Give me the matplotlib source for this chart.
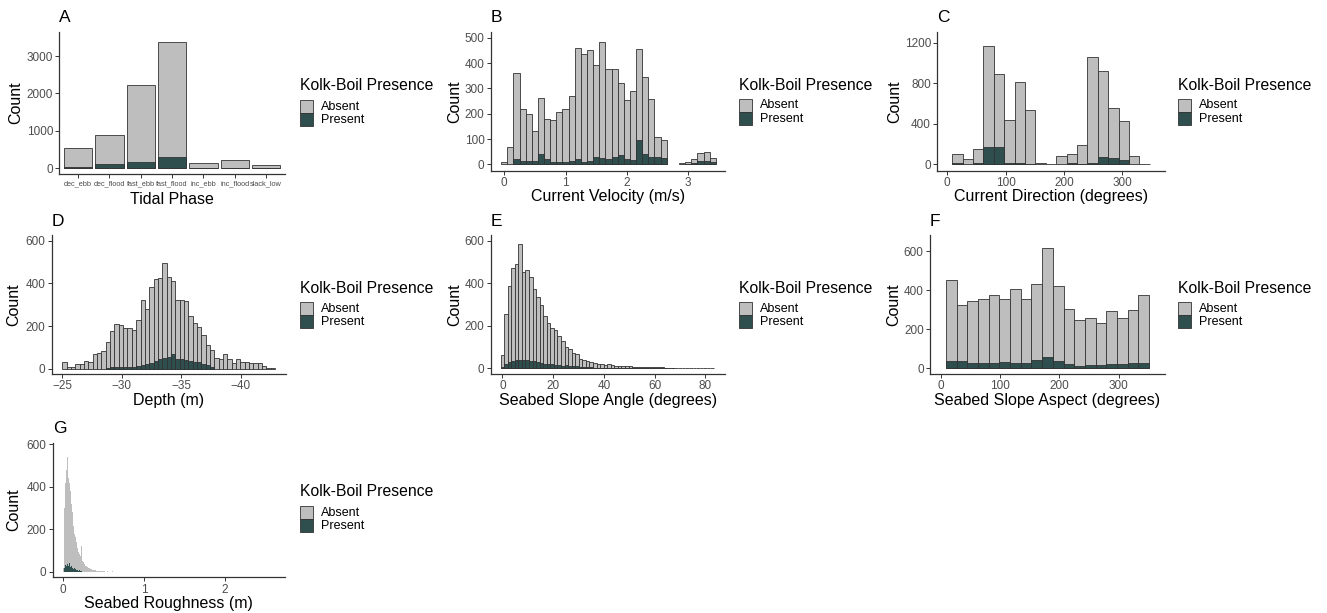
import numpy as np
import matplotlib
matplotlib.use('Agg')
from matplotlib import pyplot as plt
from matplotlib.patches import Rectangle

plt.rcParams['font.family'] = ['Liberation Sans', 'DejaVu Sans']

# A - tidal phase (bar chart)
phases = ['dec_ebb', 'dec_flood', 'fast_ebb', 'fast_flood', 'inc_ebb', 'inc_flood', 'slack_low']
phase_total = [543, 890, 2225, 3365, 130, 230, 95]
phase_present = [30, 100, 160, 300, 5, 5, 3]

# B - current velocity, bins of 0.1 centred on 0.0 ... 3.4
vel_first, vel_width = 0.0, 0.1
vel_total = [10, 70, 362, 220, 197, 133, 263, 179, 175, 205, 217, 272, 460, 434,
             451, 393, 483, 375, 378, 320, 254, 289, 454, 347, 257, 110, 95,
             0, 0, 5, 10, 20, 45, 50, 25]
vel_present = [0, 0, 20, 12, 15, 12, 42, 20, 8, 10, 10, 12, 22, 10, 15, 30, 25,
               22, 28, 38, 22, 18, 98, 42, 28, 30, 25, 0, 0, 0, 3, 5, 12, 12, 8]

# C - current direction
dir_first, dir_width = 17.5, 17.8
dir_total = [102, 49, 151, 1170, 891, 434, 809, 532, 10, 3, 82, 105, 194,
             1055, 920, 559, 427, 82, 3]
dir_present = [10, 0, 15, 170, 170, 15, 10, 8, 0, 0, 0, 10, 5, 10, 70, 60, 45, 0, 0]

# D - depth (axis reversed)
depth_first, depth_width = -25.18, -0.365
depth_total = [30, 8, 6, 23, 20, 34, 31, 69, 75, 83, 123, 179, 209, 203, 189, 190,
               183, 228, 323, 279, 381, 420, 426, 495, 429, 410, 323, 323, 317,
               245, 214, 195, 156, 109, 86, 51, 47, 70, 44, 27, 44, 31, 30, 28,
               27, 27, 12, 5, 5]
depth_present = [0, 0, 0, 0, 0, 0, 0, 0, 0, 0, 5, 8, 8, 9, 10, 10, 10, 14, 16, 22,
                 28, 34, 44, 50, 55, 70, 47, 44, 42, 34, 33, 30, 20, 16, 10,
                 0, 0, 0, 0, 0, 0, 0, 0, 0, 0, 0, 0, 0, 0]

# E - seabed slope angle
slope_first, slope_width = 0.0, 1.4
slope_total = [63, 255, 385, 470, 490, 585, 455, 460, 430, 375, 335, 300, 245, 215,
               190, 180, 150, 130, 100, 90, 70, 68, 45, 40, 33, 28, 25, 22, 18, 15,
               18, 14, 12, 11, 10, 9, 9, 8, 7, 7, 6, 6, 5, 5, 4, 4, 3, 3, 3, 2,
               2, 2, 1, 1, 1, 1, 1, 1, 1, 1]
slope_present = [5, 22, 28, 32, 38, 40, 40, 38, 36, 35, 30, 25, 22, 18, 18, 15, 15,
                 12, 14, 12, 12, 10, 6, 5, 4, 4, 3, 3, 3, 3, 3, 2, 2, 2, 2, 2, 2,
                 2, 2, 2, 2, 2, 2, 2, 2, 2, 1, 1, 1, 0, 0, 0, 0, 0, 0, 0, 0, 0, 0, 0]

# F - seabed slope aspect
aspect_first, aspect_width = 18.0, 18.0
aspect_total = [454, 322, 346, 354, 376, 354, 408, 354, 431, 617, 422, 303, 249,
                259, 233, 291, 259, 298, 376]
aspect_present = [39, 39, 27, 29, 29, 34, 27, 29, 43, 58, 39, 24, 14, 15, 17, 24,
                  22, 27, 29]

# G - seabed roughness, bins of 0.01
rough_first, rough_width = 0.0, 0.01
rough_total = [20, 90, 300, 420, 480, 540, 470, 440, 420, 380, 320, 280, 240, 215,
               180, 165, 140, 120, 110, 95, 85, 75, 65, 120, 50, 45, 38, 35, 28,
               25, 22, 20, 16, 14, 12, 14, 10, 9, 8, 7, 9, 6, 5, 5, 4, 4, 3, 3, 2,
               3, 2, 2, 1, 0, 1, 2, 1, 0, 1, 1, 0, 2, 1, 0, 1, 0, 0, 1, 1, 0, 0,
               1, 0, 0, 0, 1, 0, 0, 0, 0, 0, 0, 0, 1, 1]
rough_present = [0, 5, 20, 30, 25, 38, 35, 28, 40, 22, 25, 18, 20, 15, 18, 12, 10,
                 14, 8, 6, 10, 4, 3, 5]

GREY = '#BEBEBE'
DARK = '#2F4F4F'
EDGE = '#333333'
TICK = '#4D4D4D'

W, H = 1327, 613
fig = plt.figure(figsize=(W / 100, H / 100), dpi=100)


def add_ax(l, t, r, b):
    ax = fig.add_axes([l / W, 1 - b / H, (r - l) / W, (b - t) / H])
    for s in ['top', 'right']:
        ax.spines[s].set_visible(False)
    for s in ['left', 'bottom']:
        ax.spines[s].set_color(EDGE)
        ax.spines[s].set_linewidth(0.9)
    ax.tick_params(length=3, width=0.7, color=EDGE, labelcolor=TICK,
                   labelsize=8.5, pad=1.5)
    return ax


def hist(ax, first, width, total, present, outline=True):
    n = len(total)
    x = first + width * np.arange(n)
    total = np.array(total, dtype=float)
    pres = np.zeros(n)
    pres[:len(present)] = present
    ec = EDGE if outline else 'none'
    lw = 0.6 if outline else 0
    m = total > 0
    ax.bar(x[m], total[m], width=abs(width), color=GREY, edgecolor=ec, linewidth=lw)
    m = pres > 0
    ax.bar(x[m], pres[m], width=abs(width), color=DARK, edgecolor=ec, linewidth=lw)


def labels(box, letter, xlabel, count_x):
    l, t, r, b = box
    fig.text(l / W, 1 - (t - 14) / H, letter, fontsize=12.5, va='center', ha='left')
    fig.text((l + r) / 2 / W, 1 - (b + 26) / H, xlabel, fontsize=11.5,
             ha='center', va='center')
    fig.text(count_x / W, 1 - (t + b) / 2 / H, 'Count', fontsize=11.5,
             rotation=90, ha='center', va='center')


def legend(x, y):
    fig.text(x / W, 1 - y / H, 'Kolk-Boil Presence', fontsize=11.3,
             ha='left', va='center')
    for i, (lab, col) in enumerate([('Absent', GREY), ('Present', DARK)]):
        top = y + 14 + 13.3 * i
        fig.patches.append(Rectangle((x / W, 1 - (top + 12.6) / H), 12.6 / W,
                                     12.6 / H, transform=fig.transFigure,
                                     facecolor=col, edgecolor=EDGE, linewidth=0.6))
        fig.text((x + 21) / W, 1 - (top + 6.5) / H, lab, fontsize=9,
                 ha='left', va='center')


# panel A
box = (59.3, 31.7, 285, 174)
ax = add_ax(*box)
xa = np.arange(len(phases))
ax.bar(xa, phase_total, width=0.9, color=GREY, edgecolor=EDGE, linewidth=0.6)
ax.bar(xa, phase_present, width=0.9, color=DARK, edgecolor=EDGE, linewidth=0.6)
ax.set_xticks(xa)
ax.set_xticklabels(phases, fontsize=5.3)
ax.set_yticks([0, 1000, 2000, 3000])
ax.set_xlim(-0.6, 6.6)
ax.set_ylim(-155, 3650)
labels(box, 'A', 'Tidal Phase', 16)
legend(300, 86)

# panel B
box = (490.7, 31.7, 725, 170.7)
ax = add_ax(*box)
hist(ax, vel_first, vel_width, vel_total, vel_present)
ax.set_xticks([0, 1, 2, 3])
ax.set_yticks([0, 100, 200, 300, 400, 500])
ax.set_xlim(-0.22, 3.6)
ax.set_ylim(-25, 524)
labels(box, 'B', 'Current Velocity (m/s)', 455)
legend(739, 85)

# panel C
box = (937.3, 31.7, 1165, 170.7)
ax = add_ax(*box)
hist(ax, dir_first, dir_width, dir_total, dir_present)
ax.set_xticks([0, 100, 200, 300])
ax.set_yticks([0, 400, 800, 1200])
ax.set_xlim(-17, 373)
ax.set_ylim(-63, 1308)
labels(box, 'C', 'Current Direction (degrees)', 895)
legend(1178, 85)

# panel D
box = (51.7, 235, 286, 374)
ax = add_ax(*box)
hist(ax, depth_first, depth_width, depth_total, depth_present)
ax.set_xticks([-25, -30, -35, -40])
ax.set_yticks([0, 200, 400, 600])
ax.set_xlim(-24.1, -43.8)
ax.set_ylim(-25, 627)
labels(box, 'D', 'Depth (m)', 14)
legend(300, 288)

# panel E
box = (490.7, 235, 725, 374)
ax = add_ax(*box)
hist(ax, slope_first, slope_width, slope_total, slope_present)
ax.set_xticks([0, 20, 40, 60, 80])
ax.set_yticks([0, 200, 400, 600])
ax.set_xlim(-4.6, 87.7)
ax.set_ylim(-27, 627)
labels(box, 'E', 'Seabed Slope Angle (degrees)', 455)
legend(739, 288)

# panel F
box = (930, 235, 1165, 374)
ax = add_ax(*box)
hist(ax, aspect_first, aspect_width, aspect_total, aspect_present)
ax.set_xticks([0, 100, 200, 300])
ax.set_yticks([0, 200, 400, 600])
ax.set_xlim(-18, 378)
ax.set_ylim(-29, 682)
labels(box, 'F', 'Seabed Slope Aspect (degrees)', 894)
legend(1178, 288)

# panel G
box = (52.7, 442.7, 285, 577.3)
ax = add_ax(*box)
hist(ax, rough_first, rough_width, rough_total, rough_present, outline=False)
ax.set_xticks([0, 1, 2])
ax.set_yticks([0, 200, 400, 600])
ax.set_xlim(-0.13, 2.74)
ax.set_ylim(-26, 608)
labels(box, 'G', 'Seabed Roughness (m)', 14)
legend(300, 492)

fig.savefig('out.png', dpi=100, facecolor='white')
